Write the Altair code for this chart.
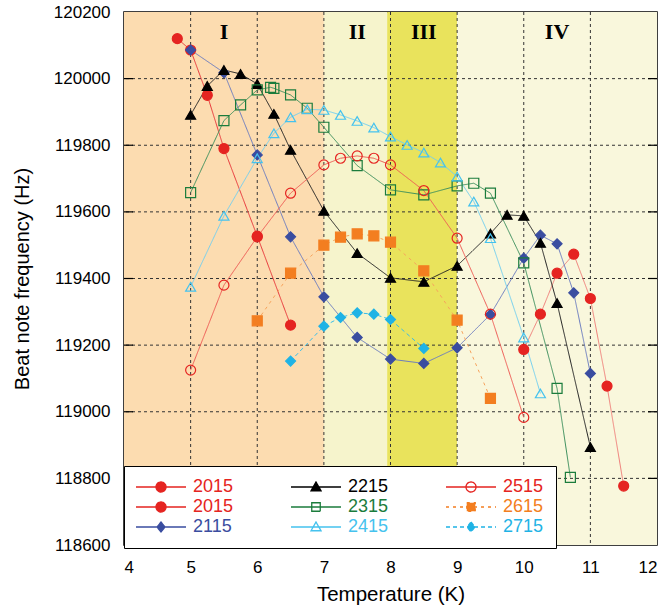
import altair as alt
import pandas as pd

# ---- measured series: temperature (K) and beat note frequency (Hz) ----
keys   = ["2015a", "2015b", "2115", "2215", "2315", "2415", "2515", "2615", "2715"]
labels = ["2015", "2015", "2115", "2215", "2315", "2415", "2515", "2615", "2715"]

temp = {
    "2015a": [4.8, 5.0, 5.25, 5.5, 6.0, 6.5],
    "2015b": [10.0, 10.25, 10.5, 10.75, 11.0, 11.25, 11.5],
    "2115": [5.0, 5.5, 6.0, 6.5, 7.0, 7.5, 8.0, 8.5, 9.0, 9.5, 10.0, 10.25, 10.5, 10.75, 11.0],
    "2215": [5.0, 5.25, 5.5, 5.75, 6.0, 6.25, 6.5, 7.0, 7.5, 8.0, 8.5, 9.0, 9.5, 9.75, 10.0, 10.25, 10.5, 11.0],
    "2315": [5.0, 5.5, 5.75, 6.0, 6.2, 6.25, 6.5, 6.75, 7.0, 7.5, 8.0, 8.5, 9.0, 9.25, 9.5, 10.0, 10.5, 10.7],
    "2415": [5.0, 5.5, 6.0, 6.25, 6.5, 6.75, 7.0, 7.25, 7.5, 7.75, 8.0, 8.25, 8.5, 8.75, 9.0, 9.25, 9.5, 10.0, 10.25],
    "2515": [5.0, 5.5, 6.0, 6.5, 7.0, 7.25, 7.5, 7.75, 8.0, 8.5, 9.0, 9.5, 10.0],
    "2615": [6.0, 6.5, 7.0, 7.25, 7.5, 7.75, 8.0, 8.5, 9.0, 9.5],
    "2715": [6.5, 7.0, 7.25, 7.5, 7.75, 8.0, 8.5],
}
freq = {
    "2015a": [120120, 120086, 119950, 119790, 119527, 119260],
    "2015b": [119187, 119293, 119416, 119473, 119340, 119077, 118777],
    "2115": [120086, 120018, 119771, 119525, 119345, 119223, 119158, 119145, 119192, 119292,
             119461, 119530, 119504, 119357, 119115],
    "2215": [119891, 119978, 120026, 120014, 119984, 119894, 119786, 119603, 119476, 119402,
             119390, 119438, 119535, 119591, 119588, 119507, 119326, 118894],
    "2315": [119658, 119874, 119921, 119966, 119974, 119971, 119951, 119911, 119854, 119739,
             119666, 119651, 119678, 119686, 119656, 119447, 119070, 118803],
    "2415": [119375, 119588, 119761, 119836, 119884, 119908, 119906, 119891, 119873, 119853,
             119826, 119801, 119778, 119748, 119706, 119631, 119521, 119223, 119055],
    "2515": [119125, 119380, 119525, 119656, 119741, 119761, 119768, 119761, 119741, 119664,
             119521, 119293, 118983],
    "2615": [119273, 119416, 119500, 119524, 119534, 119528, 119509, 119423, 119275, 119040],
    "2715": [119152, 119257, 119283, 119297, 119293, 119277, 119190],
}

# ---- styling per series ----
marker_color = ["#e52421", "#e52421", "#3a4da0", "#000000", "#1b7c3c",
                "#45c2ee", "#e52421", "#f37e20", "#1fb3e5"]
line_color   = ["#e8363a", "#f07f7a", "#6b7cc0", "#222222", "#3c8f5c",
                "#74d0f0", "#ef5b55", "#f7a35c", "#38bde9"]
marker_fill  = ["#e52421", "#e52421", "#3a4da0", "#000000", "transparent",
                "transparent", "transparent", "#f37e20", "#1fb3e5"]
marker_shape = ["circle", "circle", "diamond", "triangle-up", "square",
                "triangle-up", "circle", "square", "diamond"]
marker_size  = [100, 100, 64, 105, 64, 85, 80, 81, 70]
line_dash    = [[1, 0], [1, 0], [1, 0], [1, 0], [1, 0], [1, 0], [1, 0], [3, 4], [4, 3]]

# legend entries, filled row by row (3 columns x 3 rows)
legend_order = ["2015a", "2215", "2515", "2015b", "2315", "2615", "2115", "2415", "2715"]

# ---- background regions ----
region_start = [4.0, 7.0, 7.95, 9.0]
region_end   = [7.0, 7.95, 9.0, 12.0]
region_color = ["#fcdcb0", "#f6f4cc", "#e9e35c", "#f9f7dc"]
region_name  = ["I", "II", "III", "IV"]
region_label_x = [5.5, 7.5, 8.5, 10.5]
region_label_y = 120140

x_ticks = [4, 5, 6, 7, 8, 9, 10, 11, 12]
y_ticks = [118600, 118800, 119000, 119200, 119400, 119600, 119800, 120000, 120200]

rows = []
for k in keys:
    for i, (t, f) in enumerate(zip(temp[k], freq[k])):
        rows.append({"series": k, "T": t, "F": f, "idx": i})
df = pd.DataFrame(rows)

idx = {k: i for i, k in enumerate(keys)}
def ordered(values):
    return [values[idx[k]] for k in legend_order]

FONT = "Liberation Sans"
x_scale = alt.Scale(domain=[4, 12], nice=False, zero=False)
y_scale = alt.Scale(domain=[118600, 120200], nice=False, zero=False)
x_axis = alt.Axis(values=x_ticks, grid=False, ticks=False, domain=False, labelFontSize=17,
                  labelFont=FONT, labelColor="black", labelPadding=14, titleFont=FONT,
                  titleFontSize=20.5, titleFontWeight="normal", titleColor="black",
                  titlePadding=9)
y_axis = alt.Axis(values=y_ticks, format="d", grid=False, ticks=False, domain=False,
                  labelFontSize=17, labelFont=FONT, labelColor="black", labelPadding=14,
                  titleFont=FONT, titleFontSize=20, titleFontWeight="normal",
                  titleColor="black", titlePadding=21)

def X(field="T"):
    return alt.X(f"{field}:Q", scale=x_scale, axis=x_axis, title="Temperature (K)")

def Y(field="F"):
    return alt.Y(f"{field}:Q", scale=y_scale, axis=y_axis, title="Beat note frequency (Hz)")

# background bands, one layer per region
bands = [
    alt.Chart(pd.DataFrame({"T": [s], "T2": [e]})).mark_rect(color=c).encode(x=X(), x2="T2:Q")
    for s, e, c in zip(region_start, region_end, region_color)
]

# dashed grid and inner tick marks
vgrid = alt.Chart(pd.DataFrame({"T": x_ticks[1:-1]})).mark_rule(
    color="#333333", strokeDash=[3, 3], strokeWidth=1).encode(x=X())
hgrid = alt.Chart(pd.DataFrame({"F": y_ticks[1:-1]})).mark_rule(
    color="#333333", strokeDash=[3, 3], strokeWidth=1).encode(y=Y())
left_ticks = alt.Chart(pd.DataFrame({"F": y_ticks[1:-1]})).mark_rule(
    color="black", strokeWidth=1.2).encode(y=Y(), x=alt.value(0), x2=alt.value(9))
right_ticks = alt.Chart(pd.DataFrame({"F": y_ticks[1:-1]})).mark_rule(
    color="black", strokeWidth=1.2).encode(y=Y(), x=alt.value(524), x2=alt.value(533))

# region labels
region_df = pd.DataFrame({"T": region_label_x, "F": [region_label_y] * 4, "name": region_name})
region_text = alt.Chart(region_df).mark_text(
    font="Liberation Serif", fontWeight="bold", fontSize=22, color="black", baseline="middle"
).encode(x=X(), y=Y(), text="name:N")

# connecting lines (scales keyed in series order)
lines = alt.Chart(df).mark_line(strokeWidth=1, clip=True).encode(
    x=X(), y=Y(), order="idx:Q",
    color=alt.Color("series:N", scale=alt.Scale(domain=keys, range=line_color), legend=None),
    strokeDash=alt.StrokeDash("series:N", scale=alt.Scale(domain=keys, range=line_dash),
                              legend=None),
)

# legend glyphs: a 50 px line with the series marker in the middle
unit = {
    "circle": "M1,0A1,1,0,1,1,-1,0A1,1,0,1,1,1,0Z",
    "diamond": "M0,-1L0.8,0L0,1L-0.8,0Z",
    "triangle-up": "M0,-1L1,0.75L-1,0.75Z",
    "square": "M-0.85,-0.85H0.85V0.85H-0.85Z",
}
def glyph(shape):
    return "M-5,0H5" + unit[shape]

def by_series(values, fmt):
    expr = fmt(values[0])
    for k in keys:
        expr = f"datum.value === '{k}' ? {fmt(values[idx[k]])} : ({expr})"
    return expr

quote = lambda v: f"'{v}'"
arr = lambda d: f"[{d[0]},{d[1]}]"

legend = alt.Legend(
    orient="none", legendX=0, legendY=454, title=None, columns=3, direction="horizontal",
    labelExpr="substring(datum.label, 0, 4)", labelFont=FONT, labelFontSize=18,
    labelOffset=23, symbolOffset=16, symbolSize=100, symbolStrokeWidth=1.3,
    columnPadding=54, rowPadding=2, padding=12, fillColor="white", strokeColor="black",
    symbolOpacity=1,
    symbolType={"expr": by_series([glyph(s) for s in marker_shape], quote)},
    symbolDash={"expr": by_series(line_dash, arr)},
    symbolFillColor={"expr": by_series(marker_fill, quote)},
    symbolStrokeColor={"expr": by_series(marker_color, quote)},
    labelColor={"expr": by_series(marker_color, quote)},
)

# markers; only the stroke scale (in legend order) drives the legend
points = alt.Chart(df).mark_point(strokeWidth=1.2, opacity=1, clip=True).encode(
    x=X(), y=Y(),
    shape=alt.Shape("series:N", scale=alt.Scale(domain=keys, range=marker_shape), legend=None),
    stroke=alt.Stroke("series:N", scale=alt.Scale(domain=legend_order,
                      range=ordered(marker_color)), legend=legend),
    fill=alt.Fill("series:N", scale=alt.Scale(domain=keys, range=marker_fill), legend=None),
    size=alt.Size("series:N", scale=alt.Scale(domain=keys, range=marker_size), legend=None),
)

chart = alt.layer(
    *bands, vgrid, hgrid, left_ticks, right_ticks, region_text, lines, points
).properties(
    width=533, height=533, autosize="none",
    padding={"left": 124, "top": 12, "right": 10, "bottom": 67},
).configure_view(stroke="black", strokeWidth=1.5)

chart.save("out.html", embed_options={"renderer": "svg", "actions": False})
